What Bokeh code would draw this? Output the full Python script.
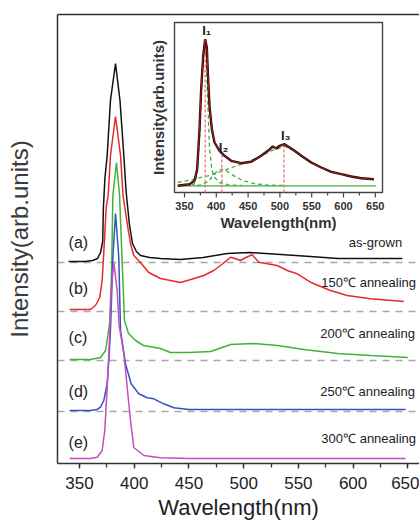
import math
from bokeh.plotting import figure
from bokeh.models import Range1d, LinearAxis, SingleIntervalTicker, FixedTicker, Span
from bokeh.core.properties import value
from bokeh.embed import file_html
from bokeh.resources import INLINE

# ---------------- main panel data (wavelength nm, stacked intensity) ----------------
bk_wl = [340, 355, 362, 366.5, 369.2, 371.2, 371.8, 373.2, 375.3, 378.3, 382.9, 387.0, 390.5, 392.5,
         395.5, 398.4, 402, 405.8, 414, 424, 442, 463, 485, 506, 534, 561, 586, 616, 645]
bk_y = [202, 202, 203, 205, 211, 222, 255, 285, 308, 363, 400, 363, 308, 273,
        240, 220, 212, 208, 206, 205, 204, 206, 210, 211, 209, 207, 205, 205, 205]

rd_wl = [341, 360, 364.6, 368.5, 370.7, 372.8, 374.4, 376.2, 378.3, 382.9, 387.5, 389.8, 393.6, 396.6,
         399.6, 405.7, 413.3, 424, 442.3, 451, 463.6, 472.7, 480, 486.4, 488, 492, 497.1, 502, 507.8,
         513.9, 521.5, 530.6, 539.8, 548.9, 561.1, 579.3, 594.6, 615.9, 646.3]
rd_y = [154, 154, 158, 166, 183, 223, 256, 268, 308, 347, 308, 268, 240, 220,
        208, 201, 191, 185, 181, 183.7, 188, 193, 199, 204.7, 206.3, 205, 203, 206, 208.7,
        201.3, 199.7, 198, 193, 189.7, 181.3, 173, 168, 164.7, 162]

gr_wl = [341, 360, 369.2, 373.8, 375.5, 377.5, 379.3, 380.5, 383.8, 386.6, 388.8, 391.1, 394.8, 401.2,
         408.5, 424, 433, 450, 470, 488, 509, 531, 555, 586, 616, 650]
gr_y = [104, 104, 106, 113, 125, 140, 190, 268, 301, 268, 206, 143, 130, 123,
        118, 115, 111, 111, 112, 119, 120, 118, 114, 110, 108, 106]

bl_wl = [341, 360, 366, 369.2, 372.2, 375.3, 376.8, 378.3, 380.5, 382.9, 385.9, 387.5, 392, 397.2,
         404.2, 411.9, 417.9, 427, 436.2, 450, 500, 550, 600, 648]
bl_y = [53, 53, 54, 56.3, 63, 79.7, 103, 133, 206, 250, 206, 133, 99.7, 79.7,
        69.7, 65.7, 64.7, 59.7, 55.7, 54, 54, 54, 54, 54]

mg_wl = [341, 360, 366.2, 370.7, 373.1, 375.3, 376.8, 378.0, 379.0, 381.3, 384.4, 386.2, 390.5, 393.6,
         396.6, 399.6, 408.8, 424, 450, 500, 550, 600, 648]
mg_y = [5, 5, 6.3, 13, 33, 76, 110, 140, 173, 201, 173, 138, 110, 76,
        43, 16, 8, 5.7, 5, 5, 5, 5, 5]

sep_levels = [201, 152, 103, 52]
left_tags = ["(a)", "(b)", "(c)", "(d)", "(e)"]
right_tags = ["as-grown", "150\u2103 annealing", "200\u2103 annealing", "250\u2103 annealing", "300\u2103 annealing"]

# ---------------- inset data ----------------
in_wl = [339.5, 357.9, 365.7, 369.9, 373.6, 376.2, 379.4, 382.5, 385.1, 386.7, 389.3, 393, 397.2, 405.1,
         412.9, 423.4, 439.1, 454.9, 470.6, 481.1, 488.9, 494.2, 499.4, 507.3, 515.2, 523, 533.6, 549.3,
         565, 580.8, 596.5, 612.2, 628, 647.8]
in_y = [6.7, 8.3, 11.7, 23.3, 63.3, 103.3, 136.7, 153.3, 145, 120, 86.7, 63.3, 50, 41.7,
        36.7, 31.7, 29.3, 30.7, 36.7, 41.7, 46, 44, 46.7, 48.3, 45, 41.7, 36.7, 30,
        25, 20.7, 18.3, 16, 14.3, 13.3]
c1_wl = [340, 365, 369.9, 373.6, 376.2, 379.4, 382.5, 384.5, 386.7, 389.3, 393, 397.2, 405.1, 420, 440]
c1_y = [7, 8, 18, 55, 98, 133, 150, 130, 90, 45, 23, 15, 10, 7.5, 7]
c2_wl = [370, 376.2, 386.7, 394, 401, 408.7, 416, 423.4, 439.1, 458, 481, 510]
c2_y = [7, 7.7, 10.7, 16, 21, 23.3, 21.5, 18.3, 12.7, 9, 7.3, 7]
c3_wl = [339.5, 365.7, 386.7, 407.7, 428.6, 449.6, 468, 486.4, 507.3, 523, 549.3, 580.8, 612.2, 647.8]
c3_y = [10, 13.3, 16.7, 21, 26, 30.7, 35.7, 41.7, 46, 41.7, 30, 20.7, 16, 13.3]
base_wl = [339.5, 651]
base_y = [6.7, 6.7]
peak_wl = [382.5, 408.7, 506.3]
peak_top = [154, 37, 49]
peak_tags = ["I\u2081", "I\u2082", "I\u2083"]
inset_ticks = [350, 400, 450, 500, 550, 600, 650]
inset_minor = [375, 425, 475, 525, 575, 625]

# ---------------- layout (pixels) ----------------
W, H = 419, 522
FL, FR, FT, FB = 57, 419, 14, 463
X350, PXNM = 79.0, 54.72 / 50
IN_L, IN_R, IN_T, IN_B = 174, 382, 22, 192
IX350, IPXNM = 184.0, 31.8 / 50

FONT = value("Liberation Sans")

p = figure(width=W, height=H, output_backend="svg", toolbar_location=None,
           x_range=Range1d(350 + (FL - X350) / PXNM, 350 + (FR - X350) / PXNM),
           y_range=Range1d(0, FB - FT),
           min_border_left=FL, min_border_right=W - FR, min_border_top=FT, min_border_bottom=H - FB,
           x_axis_type=None, y_axis_type=None)
p.outline_line_color = None
p.grid.visible = False
p.background_fill_color = "white"
p.border_fill_color = "white"

xa = LinearAxis(ticker=SingleIntervalTicker(interval=50, num_minor_ticks=2))
xa.axis_label = "Wavelength(nm)"
xa.axis_label_text_font = "Liberation Sans"
xa.axis_label_text_font_size = "22px"
xa.axis_label_text_font_style = "normal"
xa.axis_label_text_color = "#222222"
xa.axis_label_standoff = 3
xa.major_label_text_font = "Liberation Sans"
xa.major_label_text_font_size = "17px"
xa.major_label_text_color = "#222222"
xa.major_label_standoff = 8
xa.axis_line_color = "#333333"
xa.axis_line_width = 1.5
xa.major_tick_line_color = "#333333"
xa.major_tick_line_width = 1.3
xa.minor_tick_line_color = "#333333"
xa.minor_tick_line_width = 1.3
xa.major_tick_in = 0
xa.major_tick_out = 5
xa.minor_tick_in = 0
xa.minor_tick_out = 4
p.add_layout(xa, "below")

ya = LinearAxis(ticker=FixedTicker(ticks=[]))
ya.axis_label = "Intensity(arb.units)"
ya.axis_label_text_font = "Liberation Sans"
ya.axis_label_text_font_size = "24px"
ya.axis_label_text_font_style = "normal"
ya.axis_label_text_color = "#3a3a3a"
ya.axis_label_standoff = 25
ya.major_label_text_font_size = "0px"
ya.major_tick_out = 0
ya.minor_tick_out = 0
ya.axis_line_color = "#333333"
ya.axis_line_width = 1.5
p.add_layout(ya, "left")

ta = LinearAxis(ticker=FixedTicker(ticks=[]))
ta.major_label_text_font_size = "0px"
ta.major_tick_out = 0
ta.minor_tick_out = 0
ta.axis_line_color = "#333333"
ta.axis_line_width = 1.5
p.add_layout(ta, "above")

for lv in sep_levels:
    p.add_layout(Span(location=lv, dimension="width", line_color="#a8a8a8",
                      line_dash="7 6", line_width=1.5, level="underlay"))

series = [(bk_wl, bk_y, "#111111"), (rd_wl, rd_y, "#e82a25"), (gr_wl, gr_y, "#43b239"),
          (bl_wl, bl_y, "#3553bd"), (mg_wl, mg_y, "#c24cc4")]
baselines = []
for wl, yy, col in series:
    p.line(wl, yy, line_color=col, line_width=1.5)
    baselines.append(yy[0])

left_dy = [19, 21, 22, 19, 16]
right_dy = [19, 27, 26, 19, 20]
right_x = [596, 571, 570, 570, 571]
p.text(x=[340] * 5, y=[b + d for b, d in zip(baselines, left_dy)], text=left_tags,
       text_font=FONT, text_font_size="16px", text_color="#222222",
       text_align="left", text_baseline="middle")
p.text(x=right_x, y=[b + d for b, d in zip(baselines, right_dy)], text=right_tags,
       text_font=FONT, text_font_size="13px", text_color="#222222",
       text_align="left", text_baseline="middle")

# ---------------- inset drawn in the same canvas with its own scales ----------------
p.extra_x_ranges = {"ix": Range1d(350 + (FL - IX350) / IPXNM, 350 + (FR - IX350) / IPXNM)}
p.extra_y_ranges = {"iy": Range1d(IN_B - FB, IN_B - FT)}
R = dict(x_range_name="ix", y_range_name="iy")
ix_l = 350 + (IN_L - IX350) / IPXNM
ix_r = 350 + (IN_R - IX350) / IPXNM

p.quad(left=[ix_l], right=[ix_r], bottom=[0], top=[IN_B - IN_T], fill_color="white",
       line_color="#444444", line_width=1.4, **R)
p.line(base_wl, base_y, line_color="#3cb043", line_width=1.3, **R)
for wl, yy in [(c1_wl, c1_y), (c2_wl, c2_y), (c3_wl, c3_y)]:
    p.line(wl, yy, line_color="#3cb043", line_width=1.3, line_dash="4 3", **R)
p.segment(x0=peak_wl, y0=[0] * 3, x1=peak_wl, y1=peak_top, line_color="#f07070",
          line_width=1.3, line_dash="3 2", **R)
p.line(in_wl, in_y, line_color="#111111", line_width=2.4, **R)
p.line(in_wl, in_y, line_color="#c81010", line_width=1.0, **R)
p.text(x=peak_wl, y=peak_top, text=peak_tags, x_offset=-3, y_offset=-1,
       text_font=FONT, text_font_style="bold", text_font_size="13px", text_color="#222222",
       text_align="left", text_baseline="bottom", **R)

p.segment(x0=inset_ticks, y0=[0] * 7, x1=inset_ticks, y1=[-5] * 7, line_color="#444444",
          line_width=1.2, **R)
p.segment(x0=inset_minor, y0=[0] * 6, x1=inset_minor, y1=[-3] * 6, line_color="#444444",
          line_width=1.2, **R)
p.text(x=inset_ticks, y=[-13] * 7, text=[str(t) for t in inset_ticks],
       text_font=FONT, text_font_style="bold", text_font_size="11px", text_color="#333333",
       text_align="center", text_baseline="middle", **R)
p.text(x=[(ix_l + ix_r) / 2], y=[-30], text=["Wavelength(nm)"],
       text_font=FONT, text_font_style="bold", text_font_size="15px", text_color="#333333",
       text_align="center", text_baseline="middle", **R)
p.text(x=[350 + (158 - IX350) / IPXNM], y=[(IN_B - IN_T) / 2], text=["Intensity(arb.units)"],
       angle=math.pi / 2, text_font=FONT, text_font_style="bold", text_font_size="15px",
       text_color="#333333", text_align="center", text_baseline="middle", **R)

open("out.html", "w").write(file_html(p, INLINE))
